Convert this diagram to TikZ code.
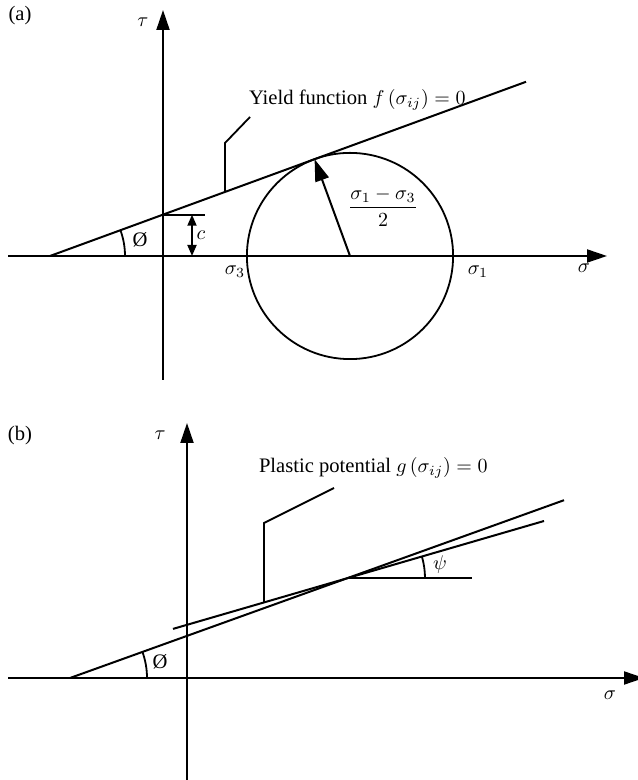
\documentclass[tikz,border=0pt]{standalone}
\usepackage{amsmath}
\usepackage{fontspec}
\setmainfont{Liberation Serif}
\usetikzlibrary{arrows.meta,calc}
\begin{document}
\begin{tikzpicture}[x=0.5pt,y=0.5pt,line width=1pt,line cap=butt,
  axarrow/.style={-{Triangle[length=10pt,width=6.5pt]}},
  radarrow/.style={-{Triangle[length=11pt,width=7pt]}},
  dimarrow/.style={{Triangle[length=5.5pt,width=4.5pt]}-{Triangle[length=5.5pt,width=4.5pt]}},
  lbl/.style={inner sep=0pt,font=\fontsize{10.3}{12}\selectfont},
  thinline/.style={line width=0.9pt}]
\useasboundingbox (0,0) rectangle (637,780);

% ---------------- panel (a) ----------------
\coordinate (aO) at (163,524);
\coordinate (aL) at (8,524);
\coordinate (aR) at (607,524);
\coordinate (aB) at (163,400);
\coordinate (aT) at (163,770);
\coordinate (aA) at (50,524);
\coordinate (aE) at (526,698.2);
\coordinate (aI) at (163,565.3);
\coordinate (aIc) at (205,565.3);
\coordinate (ac1) at (192,565.3);
\coordinate (ac2) at (192,524);
\coordinate (aC) at (350,524);
\coordinate (aTan) at ($(aC)+(110.1:103.1)$);
\coordinate (aF1) at (225,588);
\coordinate (aF2) at (225,637);
\coordinate (aF3) at (250,663);

\draw[axarrow] (aL) -- (aR);
\draw[axarrow] (aB) -- (aT);
\draw (aA) -- (aE);
\draw (aI) -- (aIc);
\draw[thinline,dimarrow] (ac1) -- (ac2);
\draw[thinline] (aC) circle [radius=103.1];
\draw[radarrow] (aC) -- (aTan);
\draw[thinline] (aF1) -- (aF2) -- (aF3);
\draw[thinline] ([shift={(0:75)}]aA) arc [start angle=0,end angle=20.1,radius=75];

\node[lbl] (alab) at (20,764) {(a)};
\node[lbl] (atau) at (143,758) {$\tau$};
\node[lbl,anchor=base west] (ayield) at (248,675) {Yield function $f\,(\sigma_{ij}) = 0$};
\node[lbl] (as3) at (235,508) {$\sigma_3$};
\node[lbl] (as1) at (478,508) {$\sigma_1$};
\node[lbl] (asig) at (584,512) {$\sigma$};
\node[lbl] (ac) at (201,545) {$c$};
\node[lbl] (aphi) at (140,540) {Ø};
\node[lbl] (afrac) at (383,573) {$\dfrac{\sigma_1-\sigma_3}{2}$};

% ---------------- panel (b) ----------------
\coordinate (bL) at (8,102);
\coordinate (bR) at (644,102);
\coordinate (bB) at (187,0);
\coordinate (bT) at (187,357);
\coordinate (bA) at (70,102);
\coordinate (bP) at (347,201.7);
\coordinate (bE) at (564,279.8);
\coordinate (bG1) at (173,151.1);
\coordinate (bG2) at (544,259);
\coordinate (bH) at (472,201.7);
\coordinate (bF1) at (264,177.5);
\coordinate (bF2) at (264,257);
\coordinate (bF3) at (334,292);

\draw[axarrow] (bL) -- (bR);
\draw[axarrow] (bB) -- (bT);
\draw (bA) -- (bE);
\draw (bG1) -- (bG2);
\draw (bP) -- (bH);
\draw[thinline] (bF1) -- (bF2) -- (bF3);
\draw[thinline] ([shift={(0:77)}]bA) arc [start angle=0,end angle=19.8,radius=77];
\draw[thinline] ([shift={(0:78)}]bP) arc [start angle=0,end angle=16.2,radius=78];

\node[lbl] (blab) at (20,344) {(b)};
\node[lbl] (btau) at (160,345) {$\tau$};
\node[lbl,anchor=base west] (bplast) at (258,307) {Plastic potential $g\,(\sigma_{ij}) = 0$};
\node[lbl] (bphi) at (160,118) {Ø};
\node[lbl] (bpsi) at (440,215) {$\psi$};
\node[lbl] (bsig) at (610,85) {$\sigma$};
\end{tikzpicture}
\end{document}
